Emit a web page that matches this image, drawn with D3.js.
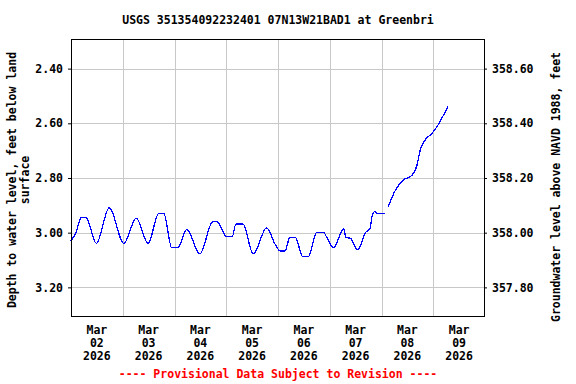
<!DOCTYPE html>
<html>
<head>
<meta charset="utf-8">
<script src="https://cdn.jsdelivr.net/npm/d3@7"></script>
<style>
  body { margin: 0; background: #fff; }
  text { font-family: "DejaVu Sans Mono", monospace; font-weight: bold; font-size: 11.5px; }
</style>
</head>
<body>
<div id="chart"></div>
<script>
// chart text
let title = "USGS 351354092232401 07N13W21BAD1 at Greenbri"
let leftTitle = ["Depth to water level, feet below land", "surface"]
let rightTitle = "Groundwater level above NAVD 1988, feet"
let footnote = "---- Provisional Data Subject to Revision ----"

// tick labels
let depthTicks = [2.4, 2.6, 2.8, 3.0, 3.2]
let elevTicks = [357.8, 358.0, 358.2, 358.4, 358.6]
let dayTicks = ["2026-03-02", "2026-03-03", "2026-03-04", "2026-03-05", "2026-03-06", "2026-03-07", "2026-03-08", "2026-03-09"]
let dayLabels = [["Mar", "02", "2026"], ["Mar", "03", "2026"], ["Mar", "04", "2026"], ["Mar", "05", "2026"],
                 ["Mar", "06", "2026"], ["Mar", "07", "2026"], ["Mar", "08", "2026"], ["Mar", "09", "2026"]]

// land surface datum (depth 0) in feet above NAVD 1988
let landSurface = 361.0

// series (null = gap in record)
let times = [
  "2026-03-02 00:00", "2026-03-02 02:15", "2026-03-02 04:45", "2026-03-02 07:00", "2026-03-02 11:45", "2026-03-02 17:45",
  "2026-03-03 00:30", "2026-03-03 06:15", "2026-03-03 11:45", "2026-03-03 16:45", "2026-03-03 19:00", "2026-03-03 22:45",
  "2026-03-04 01:30", "2026-03-04 05:45", "2026-03-04 11:45", "2026-03-04 17:45", "2026-03-04 19:45",
  "2026-03-05 00:15", "2026-03-05 02:45", "2026-03-05 04:30", "2026-03-05 07:45", "2026-03-05 12:30", "2026-03-05 18:45", "2026-03-05 22:30",
  "2026-03-06 01:00", "2026-03-06 03:15", "2026-03-06 05:30", "2026-03-06 08:00", "2026-03-06 11:30", "2026-03-06 14:00", "2026-03-06 18:00",
  "2026-03-06 21:15", "2026-03-06 22:15",
  "2026-03-07 01:45", "2026-03-07 06:30", "2026-03-07 07:30", "2026-03-07 09:30", "2026-03-07 13:00", "2026-03-07 16:30", "2026-03-07 18:45",
  "2026-03-07 19:30", "2026-03-07 21:00", "2026-03-07 22:00",
  "2026-03-08 01:30", "2026-03-08 02:15", "2026-03-08 03:00", "2026-03-08 06:30", "2026-03-08 10:15", "2026-03-08 14:15", "2026-03-08 16:30",
  "2026-03-08 18:00", "2026-03-08 20:15", "2026-03-08 23:30",
  "2026-03-09 01:45", "2026-03-09 06:45"
]
let depth = [
  3.030, 3.000, 2.945, 2.945, 3.039, 2.909,
  3.039, 2.947, 3.039, 2.929, 2.929, 3.055,
  3.055, 2.988, 3.078, 2.960, 2.960,
  3.015, 3.015, 2.968, 2.968, 3.078, 2.982, 3.040,
  3.067, 3.067, 3.017, 3.017, 3.088, 3.088, 2.999,
  2.999, 3.012,
  3.055, 2.986, 3.018, 3.020, 3.063, 3.000, 2.985,
  2.944, 2.922, 2.930,
  2.930, null, 2.907, 2.844, 2.807, 2.789, 2.752,
  2.697, 2.661, 2.636,
  2.612, 2.539
]

let width = 576
let height = 384
let plotLeft = 71, plotRight = 485, plotTop = 39.5, plotBottom = 316

let parseTime = d3.utcParse("%Y-%m-%d %H:%M")
let parseDay = d3.utcParse("%Y-%m-%d")
let data = times.map((t, i) => ({ t: parseTime(t), v: depth[i] }))

let svg = d3.select("#chart")
    .append("svg")
    .attr("width", width)
    .attr("height", height)

let x = d3.scaleUtc()
    .domain([parseDay("2026-03-02"), parseDay("2026-03-10")])
    .range([plotLeft, plotRight])

let y = d3.scaleLinear()
    .domain([2.2935, 3.3047])
    .range([plotTop, plotBottom])

let y2 = d3.scaleLinear()
    .domain([landSurface - 2.2935, landSurface - 3.3047])
    .range([plotTop, plotBottom])

// grid
let grid = svg.append("g")
    .attr("stroke", "#c8c8c8")
    .attr("shape-rendering", "crispEdges")

grid.selectAll("line.h")
    .data(depthTicks)
    .enter()
    .append("line")
    .attr("x1", plotLeft).attr("x2", plotRight)
    .attr("y1", d => Math.round(y(d)) + 0.5).attr("y2", d => Math.round(y(d)) + 0.5)

grid.selectAll("line.v")
    .data(dayTicks.slice(1))
    .enter()
    .append("line")
    .attr("x1", d => Math.round(x(parseDay(d))) + 0.5).attr("x2", d => Math.round(x(parseDay(d))) + 0.5)
    .attr("y1", plotTop).attr("y2", plotBottom)

// the water level line
let line = d3.line()
    .defined(d => d.v !== null)
    .curve(d3.curveMonotoneX)
    .x(d => x(d.t))
    .y(d => y(d.v))

svg.append("path")
    .datum(data)
    .attr("d", line)
    .attr("fill", "none")
    .attr("stroke", "#0000ff")
    .attr("stroke-width", 1.3)
    .attr("shape-rendering", "crispEdges")

// frame
svg.append("rect")
    .attr("x", plotLeft + 0.5)
    .attr("y", plotTop)
    .attr("width", plotRight - plotLeft - 1)
    .attr("height", plotBottom - plotTop)
    .attr("fill", "none")
    .attr("stroke", "black")
    .attr("shape-rendering", "crispEdges")

// left axis
let leftAxis = svg.append("g")
    .attr("transform", "translate(" + plotLeft + ",0)")
    .call(d3.axisLeft(y).tickValues(depthTicks).tickFormat(d3.format(".2f")).tickSize(3).tickPadding(5))
leftAxis.select(".domain").remove()
leftAxis.selectAll("text").attr("font-size", null).attr("font-family", null)

// right axis
let rightAxis = svg.append("g")
    .attr("transform", "translate(" + (plotRight - 1) + ",0)")
    .call(d3.axisRight(y2).tickValues(elevTicks).tickFormat(d3.format(".2f")).tickSize(3).tickPadding(5))
rightAxis.select(".domain").remove()
rightAxis.selectAll("text").attr("font-size", null).attr("font-family", null)

// bottom labels, centred on noon of each day
let xl = svg.append("g")
xl.selectAll("text")
    .data(dayTicks)
    .enter()
    .append("text")
    .attr("text-anchor", "middle")
    .attr("x", d => x(d3.utcHour.offset(parseDay(d), 12)))
    .attr("y", 334)
    .each(function (d, i) {
        d3.select(this).selectAll("tspan")
            .data(dayLabels[i])
            .enter()
            .append("tspan")
            .attr("x", x(d3.utcHour.offset(parseDay(d), 12)))
            .attr("dy", (s, j) => j == 0 ? 0 : 13)
            .text(s => s)
    })

// titles
svg.append("text")
    .attr("x", (plotLeft + plotRight) / 2)
    .attr("y", 24)
    .attr("text-anchor", "middle")
    .text(title)

svg.append("text")
    .attr("transform", "translate(16,180) rotate(-90)")
    .attr("text-anchor", "middle")
    .selectAll("tspan")
    .data(leftTitle)
    .enter()
    .append("tspan")
    .attr("x", 0)
    .attr("dy", (s, j) => j == 0 ? 0 : 13)
    .text(s => s)

svg.append("text")
    .attr("transform", "translate(560,187) rotate(-90)")
    .attr("text-anchor", "middle")
    .text(rightTitle)

svg.append("text")
    .attr("x", (plotLeft + plotRight) / 2)
    .attr("y", 378)
    .attr("text-anchor", "middle")
    .attr("fill", "red")
    .text(footnote)
</script>
</body>
</html>
